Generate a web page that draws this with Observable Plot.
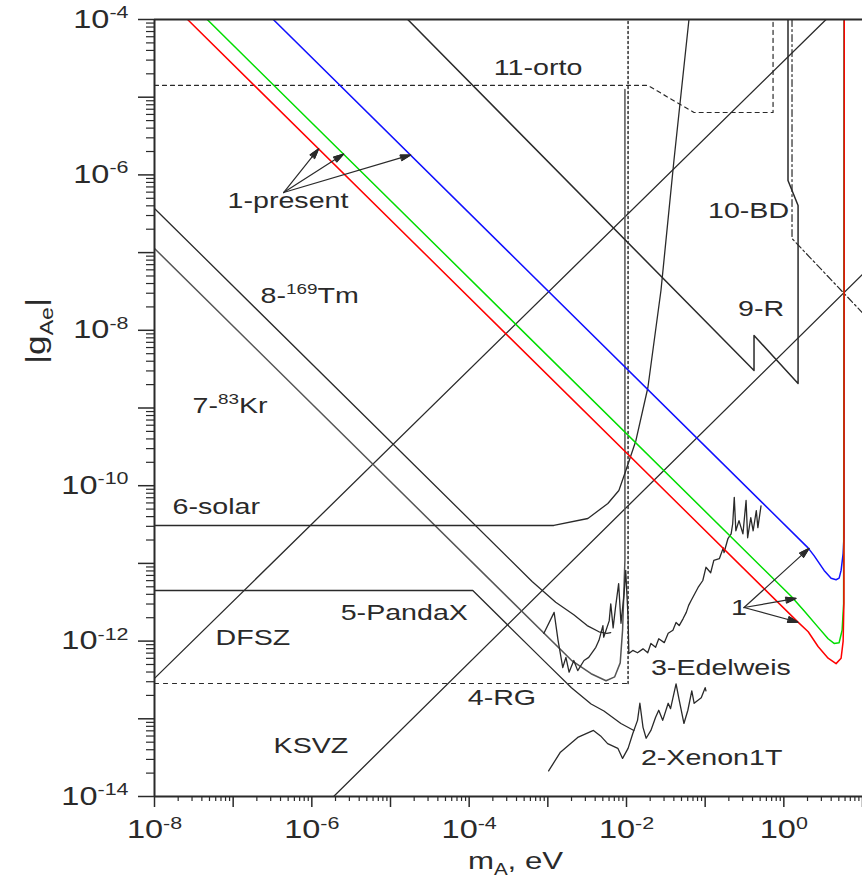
<!DOCTYPE html>
<html><head><meta charset="utf-8">
<script src="https://cdn.jsdelivr.net/npm/d3@7"></script>
<script src="https://cdn.jsdelivr.net/npm/@observablehq/plot@0.6"></script>
<style>
html,body{margin:0;padding:0;background:#fff;}
#chart{width:862px;height:878px;overflow:hidden;}
</style></head><body><div id="chart"></div>
<script>
// All values are log10 of m_A (eV) and |g_Ae|
const redM = [-7.58, 0.18, 0.31, 0.435, 0.563, 0.664, 0.728, 0.754, 0.764, 0.768];
const redG = [-4.00, -11.756, -11.88, -12.07, -12.22, -12.29, -12.22, -12.00, -11.50, -4.00];
const greenM = [-7.33, 0.09, 0.257, 0.435, 0.563, 0.639, 0.703, 0.741, 0.760, 0.768];
const greenG = [-4.00, -11.42, -11.61, -11.82, -11.97, -12.03, -12.02, -11.86, -11.52, -4.00];
const blueM = [-6.49, 0.308, 0.384, 0.512, 0.601, 0.664, 0.703, 0.728, 0.754, 0.764, 0.768];
const blueG = [-4.00, -10.80, -10.90, -11.09, -11.19, -11.21, -11.19, -11.09, -10.87, -10.67, -4.00];

const xenonM = [-2.99,-2.84,-2.62,-2.42,-2.33,-2.24,-2.11,-2.05,-1.98,-1.92,-1.86,-1.83,-1.79,-1.75,-1.69,-1.63,-1.59,-1.54,-1.47,-1.44,-1.37,-1.33,-1.27,-1.22,-1.17,-1.14,-1.05,-1.00,-0.99];
const xenonG = [-13.67,-13.43,-13.24,-13.15,-13.22,-13.32,-13.38,-13.51,-13.38,-13.19,-13.02,-12.80,-13.11,-13.25,-13.15,-12.98,-12.89,-13.02,-12.80,-12.87,-12.55,-12.76,-13.06,-12.89,-12.64,-12.80,-12.73,-12.60,-12.64];

const edelM = [-3.05,-2.92,-2.87,-2.81,-2.77,-2.73,-2.67,-2.62,-2.54,-2.48,-2.39,-2.35,-2.30,-2.29,-2.22,-2.20,-2.17,-2.14,-2.10,-2.07,-2.03,-2.01,-1.98,-1.97,-1.92,-1.86,-1.79,-1.73,-1.69,-1.63,-1.59,-1.52,-1.47,-1.41,-1.37,-1.33,-1.28,-1.24,-1.21,-1.18,-1.09,-1.03,-0.99,-0.93,-0.89,-0.82,-0.77,-0.76,-0.71,-0.67,-0.65,-0.63,-0.61,-0.57,-0.52,-0.48,-0.46,-0.42,-0.39,-0.35,-0.33,-0.29];
const edelG = [-11.90,-11.63,-11.99,-12.34,-12.21,-12.40,-12.25,-12.38,-12.25,-12.21,-12.08,-11.99,-11.80,-11.95,-11.74,-11.52,-11.83,-11.57,-11.26,-11.77,-11.39,-11.09,-11.70,-12.16,-12.12,-12.15,-12.10,-12.15,-12.03,-12.08,-11.97,-12.02,-11.90,-11.86,-11.76,-11.80,-11.71,-11.63,-11.54,-11.48,-11.31,-11.22,-11.05,-11.12,-10.96,-10.94,-10.80,-10.86,-10.68,-10.62,-10.49,-10.15,-10.58,-10.45,-10.62,-10.19,-10.67,-10.41,-10.58,-10.32,-10.54,-10.26];

const tmM = [-8, -3.2, -2.9, -2.67, -2.5, -2.35, -2.25, -2.2];
const tmG = [-6.432, -11.232, -11.50, -11.66, -11.80, -11.88, -11.90, -11.89];
const krM = [-8, -2.7, -2.45, -2.26, -2.15, -2.08, -2.05, -2.02, -2.02];
const krG = [-6.947, -12.247, -12.42, -12.51, -12.46, -12.28, -11.86, -10.96, -4.90];
const pandaM = [-8, -3.954, -3.0, -2.7, -2.45, -2.287, -2.071, -1.906];
const pandaG = [-11.349, -11.349, -12.303, -12.60, -12.81, -12.90, -13.06, -13.15];
const rgM = [-8, -1.98];
const rgG = [-12.546, -12.546];
const rgEdgeM = [-1.98, -1.98];
const rgEdgeG = [-12.546, -4];
const solarM = [-8, -2.924, -2.491, -2.237, -2.097, -2.008, -1.880, -1.728, -1.562, -1.397, -1.206];
const solarG = [-10.512, -10.512, -10.422, -10.229, -10.062, -9.804, -9.418, -8.736, -7.488, -5.815, -4];
const reactorM = [-4.781, -0.379, -0.379, 0.181, 0.181, 0.053, 0.053];
const reactorG = [-4, -8.517, -8.067, -8.685, -6.394, -6.072, -4];
const bdM = [0.104, 0.104, 1.008];
const bdG = [-4, -6.819, -7.784];
const ortoM = [-8, -1.728, -1.142, -0.137, -0.137];
const ortoG = [-4.849, -4.849, -5.197, -5.197, -4];
const dfszM = [-8, 0.537];
const dfszG = [-12.48, -4];
const ksvzM = [-5.723, 1.0];
const ksvzG = [-14, -7.28];

const labelText = ["11-orto", "1-present", "10-BD", "9-R", "8-^{169}Tm", "7-^{83}Kr", "6-solar", "5-PandaX", "DFSZ", "4-RG", "KSVZ", "3-Edelweis", "2-Xenon1T", "1"];
const labelM = [-3.687, -7.071, -0.964, -0.583, -6.651, -7.517, -7.771, -5.633, -7.224, -4.018, -6.486, -1.689, -1.817, -0.671];
const labelG = [-4.618, -6.329, -6.458, -7.719, -7.552, -8.968, -10.268, -11.632, -11.954, -12.726, -13.344, -12.340, -13.498, -11.568];

const arrowFromM = [-6.359, -6.359, -6.359, -0.506, -0.506, -0.506];
const arrowFromG = [-6.227, -6.227, -6.227, -11.568, -11.568, -11.568];
const arrowToM = [-5.913, -5.595, -4.743, 0.321, 0.156, 0.181];
const arrowToG = [-5.663, -5.731, -5.743, -10.807, -11.45, -11.757];

const xLabeled = [-8, -6, -4, -2, 0];
const xOther = [-7, -5, -3, -1, 1];
const yLabeled = [-14, -12, -10, -8, -6, -4];
const yOther = [-13, -11, -9, -7, -5];

// helpers
const P = (ms, gs) => ms.map((m, i) => ({m: 10 ** m, g: 10 ** gs[i]}));
const minors = (lo, hi) => { const a = []; for (let k = lo; k < hi; k++) for (let d = 2; d <= 9; d++) a.push(d * 10 ** k); return a; };
const pow = e => 10 ** e;
const fmt = d => "10^{" + Math.round(Math.log10(d)) + "}";
const blank = () => "";
const ink = "#2a2a2a";
const lw = 1.3;

const labels = labelText.map((t, i) => ({t, m: 10 ** labelM[i], g: 10 ** labelG[i]}));
const arrows = arrowFromM.map((_, i) => ({x1: 10 ** arrowFromM[i], y1: 10 ** arrowFromG[i], x2: 10 ** arrowToM[i], y2: 10 ** arrowToG[i]}));

const line = (ms, gs, o = {}) => Plot.line(P(ms, gs), {x: "m", y: "g", stroke: ink, strokeWidth: lw, clip: true, ...o});

const plot = Plot.plot({
  width: 862, height: 878,
  marginLeft: 154, marginRight: 0, marginTop: 19, marginBottom: 82,
  style: {fontFamily: "'Liberation Sans', Arial, sans-serif", background: "#fff", color: ink, overflow: "visible"},
  x: {type: "log", domain: [1e-8, 10], label: null},
  y: {type: "log", domain: [1e-14, 1e-4], label: null},
  marks: [
    line(ortoM, ortoG, {strokeDasharray: "4,4", strokeWidth: 1.2}),
    line(rgM, rgG, {strokeDasharray: "4,5", strokeWidth: 1.2}),
    line(rgEdgeM, rgEdgeG, {strokeDasharray: "2,3", strokeWidth: 1.5}),
    line(bdM, bdG, {strokeDasharray: "7,3,2,3", strokeWidth: 1.2}),
    line(dfszM, dfszG),
    line(ksvzM, ksvzG),
    line(tmM, tmG),
    line(krM, krG, {stroke: "#555", strokeWidth: 1.5}),
    line(pandaM, pandaG),
    line(solarM, solarG),
    line(reactorM, reactorG, {strokeWidth: 1.5}),
    line(edelM, edelG, {strokeWidth: 1.3}),
    line(xenonM, xenonG, {strokeWidth: 1.3}),
    line(blueM, blueG, {stroke: "#1010ff", strokeWidth: 1.5}),
    line(greenM, greenG, {stroke: "#00dd00", strokeWidth: 1.5}),
    line(redM, redG, {stroke: "#ff0000", strokeWidth: 1.5}),
    Plot.arrow(arrows, {x1: "x1", y1: "y1", x2: "x2", y2: "y2", stroke: ink, strokeWidth: 1.2, headLength: 13, headAngle: 32}),
    Plot.text(labels, {x: "m", y: "g", text: "t", textAnchor: "start", lineAnchor: "middle", fontSize: 22, fill: ink}),
    // axes
    Plot.ruleX([1e-8], {stroke: ink, strokeWidth: 2}),
    Plot.ruleY([1e-14], {stroke: ink, strokeWidth: 2}),
    Plot.ruleY([1e-4], {stroke: ink, strokeWidth: 2}),
    Plot.axisX(xLabeled.map(pow), {anchor: "bottom", tickSize: 11, tickPadding: 13, tickFormat: fmt, fontSize: 25, strokeWidth: 1.5, label: null}),
    Plot.axisX(xOther.map(pow), {anchor: "bottom", tickSize: 11, tickFormat: blank, strokeWidth: 1.5, label: null}),
    Plot.axisX(minors(-8, 1), {anchor: "bottom", tickSize: 5, tickFormat: blank, strokeWidth: 1.2, label: null}),
    Plot.axisY(yLabeled.map(pow), {anchor: "left", tickSize: 16, tickPadding: 10, tickFormat: fmt, fontSize: 25, strokeWidth: 1.5, label: null}),
    Plot.axisY(yOther.map(pow), {anchor: "left", tickSize: 16, tickFormat: blank, strokeWidth: 1.5, label: null}),
    Plot.axisY(minors(-14, -4), {anchor: "left", tickSize: 8, tickFormat: blank, strokeWidth: 1.2, label: null}),
    Plot.text(["m_{A}, eV"], {frameAnchor: "bottom", lineAnchor: "bottom", dx: 7, dy: 72, fontSize: 24, fill: ink}),
    Plot.text(["|g_{Ae}|"], {frameAnchor: "left", rotate: -90, lineAnchor: "middle", dx: -118, dy: -44, fontSize: 27, fill: ink})
  ]
});

document.getElementById("chart").append(plot);

const NS = "http://www.w3.org/2000/svg";

// fill the arrow heads (the reference uses solid triangular heads)
plot.querySelectorAll("path").forEach(p => {
  const d = p.getAttribute("d") || "";
  const ms = d.match(/M/g);
  if (!ms || ms.length !== 2) return;
  const i = d.indexOf("M", 1);
  const h = document.createElementNS(NS, "path");
  h.setAttribute("d", d.slice(i) + "Z");
  h.setAttribute("fill", ink);
  h.setAttribute("stroke", ink);
  h.setAttribute("stroke-width", 1);
  p.parentNode.appendChild(h);
});

// rich text: ^{...} superscript, _{...} subscript; widen glyphs like the reference
const WIDEN = 1.3;
plot.querySelectorAll("text").forEach(t => {
  const s = t.textContent;
  if (!s) return;
  if (/[\^_]\{/.test(s)) {
    const fs = parseFloat(getComputedStyle(t).fontSize) || 20;
    while (t.firstChild) t.removeChild(t.firstChild);
    let shift = 0;
    const add = (txt, kind) => {
      const ts = document.createElementNS(NS, "tspan");
      const target = kind === "^" ? -0.38 * fs : kind === "_" ? 0.28 * fs : 0;
      const dy = target - shift;
      if (dy) ts.setAttribute("dy", dy);
      shift = target;
      if (kind) ts.setAttribute("font-size", 0.66 * fs);
      ts.textContent = txt;
      t.appendChild(ts);
    };
    const re = /([\^_])\{([^}]*)\}/g;
    let last = 0, m;
    while ((m = re.exec(s))) {
      if (m.index > last) add(s.slice(last, m.index), null);
      add(m[2], m[1]);
      last = re.lastIndex;
    }
    if (last < s.length) add(s.slice(last), null);
  }
  const w = t.getComputedTextLength();
  if (w > 0) {
    t.setAttribute("textLength", (w * WIDEN).toFixed(2));
    t.setAttribute("lengthAdjust", "spacingAndGlyphs");
  }
});
</script>
</body></html>
